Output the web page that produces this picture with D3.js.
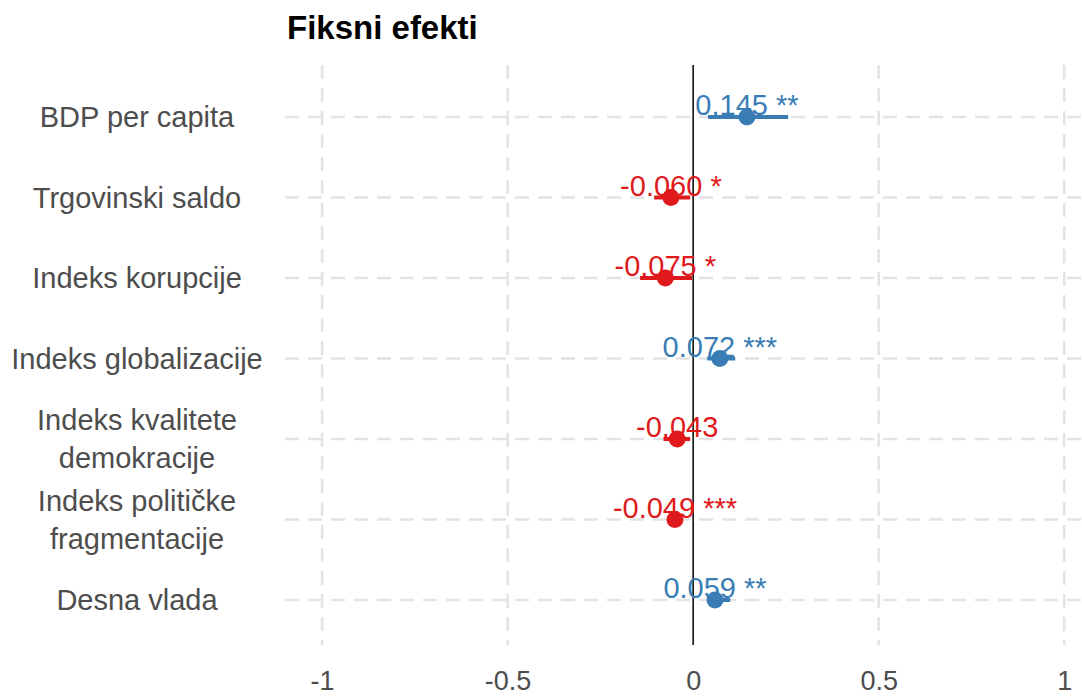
<!DOCTYPE html>
<html>
<head>
<meta charset="utf-8">
<script src="https://cdn.jsdelivr.net/npm/d3@7"></script>
<style>
  body { margin: 0; background: #fff; }
  text { font-family: "Liberation Sans", Arial, sans-serif; }
</style>
</head>
<body>
<div id="chart"></div>
<script>
// data
var labels = ["BDP per capita", "Trgovinski saldo", "Indeks korupcije", "Indeks globalizacije",
    "Indeks kvalitete\ndemokracije", "Indeks političke\nfragmentacije", "Desna vlada"];
var estimates = [0.145, -0.060, -0.075, 0.072, -0.043, -0.049, 0.059];
var lower = [0.040, -0.105, -0.143, 0.038, -0.080, -0.060, 0.040];
var upper = [0.256, -0.008, -0.003, 0.113, -0.008, -0.038, 0.100];
var stars = ["**", "*", "*", "***", "", "***", "**"];
var xTicks = [-1, -0.5, 0, 0.5, 1];

var svgWidth = 1082;
var svgHeight = 697;
var margin = { top: 65, right: 0, bottom: 52, left: 285 };
var width = svgWidth - margin.left - margin.right;
var height = svgHeight - margin.top - margin.bottom;

var data = labels.map(function (l, i) {
    return { label: l, est: estimates[i], lo: lower[i], hi: upper[i], sig: stars[i] };
});

var svg = d3.select("#chart").append("svg")
    .attr("width", svgWidth)
    .attr("height", svgHeight);

var chartGroup = svg.append("g")
    .attr("transform", `translate(${margin.left}, ${margin.top})`);

var xScale = d3.scaleLinear()
    .domain([-1.1, 1.048])
    .range([0, width]);

var yScale = d3.scalePoint()
    .domain(labels)
    .range([52, height - 45]);

var blue = "#3a7db5";
var red = "#e0191c";
var colour = d => d.est >= 0 ? blue : red;

// grid
chartGroup.append("g").selectAll("line")
    .data(labels)
    .enter().append("line")
    .attr("x1", 0).attr("x2", width)
    .attr("y1", d => yScale(d)).attr("y2", d => yScale(d))
    .attr("stroke", "#e3e3e3").attr("stroke-width", 2.5)
    .attr("stroke-dasharray", "14,9");

chartGroup.append("g").selectAll("line")
    .data(xTicks.filter(t => t !== 0))
    .enter().append("line")
    .attr("x1", d => xScale(d)).attr("x2", d => xScale(d))
    .attr("y1", 0).attr("y2", height)
    .attr("stroke", "#e3e3e3").attr("stroke-width", 2.5)
    .attr("stroke-dasharray", "14,9");

// zero line
chartGroup.append("line")
    .attr("x1", xScale(0)).attr("x2", xScale(0))
    .attr("y1", 0).attr("y2", height)
    .attr("stroke", "#000").attr("stroke-width", 1.5);

// x axis
var bottomAxis = d3.axisBottom(xScale)
    .tickValues(xTicks)
    .tickSize(0)
    .tickFormat(d => String(d));
var xAxis = chartGroup.append("g")
    .attr("transform", `translate(0, ${height})`)
    .call(bottomAxis);
xAxis.select(".domain").remove();
xAxis.selectAll("text")
    .attr("y", 36)
    .attr("dy", "0.35em")
    .style("font-size", "27px")
    .attr("fill", "#4d4d4d")
    .style("font-family", "'Liberation Sans', Arial, sans-serif");

// y labels (centred, multi-line)
var yLab = svg.append("g").selectAll("text")
    .data(labels)
    .enter().append("text")
    .attr("text-anchor", "middle")
    .attr("fill", "#4d4d4d")
    .style("font-size", "29px")
    .attr("transform", d => `translate(137, ${margin.top + yScale(d)})`);
yLab.each(function (d) {
    var lines = d.split("\n");
    var el = d3.select(this);
    lines.forEach(function (ln, i) {
        el.append("tspan")
            .attr("x", 0)
            .attr("y", (i - (lines.length - 1) / 2) * 38)
            .attr("dy", "0.35em")
            .text(ln);
    });
});

// error bars
chartGroup.append("g").selectAll("line")
    .data(data)
    .enter().append("line")
    .attr("x1", d => xScale(d.lo)).attr("x2", d => xScale(d.hi))
    .attr("y1", d => yScale(d.label)).attr("y2", d => yScale(d.label))
    .attr("stroke", colour).attr("stroke-width", 4);

// points
chartGroup.append("g").selectAll("circle")
    .data(data)
    .enter().append("circle")
    .attr("cx", d => xScale(d.est))
    .attr("cy", d => yScale(d.label))
    .attr("r", 8.5)
    .attr("fill", colour);

// value labels
chartGroup.append("g").selectAll("text")
    .data(data)
    .enter().append("text")
    .attr("x", d => xScale(d.est))
    .attr("y", d => yScale(d.label) - 2)
    .attr("text-anchor", "middle")
    .attr("fill", colour)
    .style("font-size", "29px")
    .text(d => d3.format(".3f")(d.est).replace("−", "-") + (d.sig ? " " + d.sig : ""));

// title
svg.append("text")
    .attr("x", 287)
    .attr("y", 39)
    .style("font-size", "33px")
    .style("font-weight", "bold")
    .attr("fill", "#000")
    .text("Fiksni efekti");
</script>
</body>
</html>
